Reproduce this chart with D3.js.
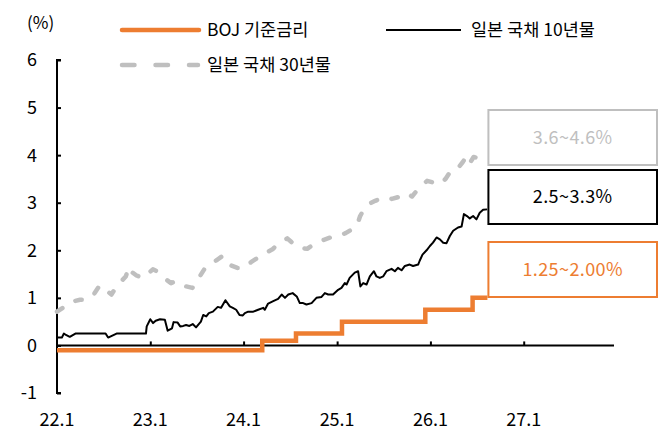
<!DOCTYPE html>
<html>
<head>
<meta charset="utf-8">
<script src="https://cdn.jsdelivr.net/npm/d3@7/dist/d3.min.js"></script>
<style>
  html, body { margin: 0; padding: 0; background: #fff; }
  svg { display: block; }
  text { font-family: "Noto Sans CJK KR", "Noto Sans", sans-serif; }
</style>
</head>
<body>
<svg id="chart" width="669" height="436"></svg>
<script>
// ---- Data ----
const seriesNames = ["BOJ 기준금리", "일본 국채 10년물", "일본 국채 30년물"];
const xTickLabels = ["22.1", "23.1", "24.1", "25.1", "26.1", "27.1"];
const yTickValues = [-1, 0, 1, 2, 3, 4, 5, 6];
const rangeLabels = ["3.6~4.6%", "2.5~3.3%", "1.25~2.00%"];

// BOJ policy rate (step changes)
const bojRate = [
  ["2022-01-01", -0.1], ["2024-03-14", 0.1], ["2024-07-24", 0.25],
  ["2025-01-20", 0.5], ["2025-12-12", 0.75], ["2026-06-15", 1.0], ["2026-08-12", 1.0]
];

// JGB 10-year yield
const jgb10 = [
  ["2022-01-02",0.165],["2022-01-20",0.165],["2022-01-28",0.25],["2022-02-05",0.22],["2022-02-20",0.18],
  ["2022-03-14",0.25],["2022-07-10",0.25],["2022-07-20",0.165],["2022-08-22",0.25],["2022-12-15",0.25],
  ["2022-12-18",0.40],["2023-01-01",0.55],["2023-01-12",0.47],["2023-01-22",0.52],["2023-02-08",0.55],
  ["2023-02-27",0.54],["2023-03-10",0.31],["2023-03-27",0.36],["2023-04-02",0.49],["2023-04-18",0.48],
  ["2023-04-28",0.40],["2023-05-10",0.41],["2023-05-21",0.43],["2023-06-03",0.41],["2023-06-16",0.45],
  ["2023-06-29",0.38],["2023-07-18",0.50],["2023-07-27",0.64],["2023-08-08",0.61],["2023-08-18",0.68],
  ["2023-09-03",0.71],["2023-09-22",0.81],["2023-10-05",0.79],["2023-10-22",0.95],["2023-11-08",0.82],
  ["2023-11-20",0.79],["2023-12-03",0.75],["2023-12-16",0.64],["2023-12-29",0.63],["2024-01-06",0.68],
  ["2024-01-19",0.71],["2024-02-08",0.71],["2024-02-27",0.75],["2024-03-18",0.79],["2024-03-24",0.75],
  ["2024-04-06",0.88],["2024-04-26",0.93],["2024-05-15",0.98],["2024-05-29",1.07],["2024-06-11",1.00],
  ["2024-06-24",1.07],["2024-07-11",1.10],["2024-07-27",1.03],["2024-08-08",0.89],["2024-08-21",0.89],
  ["2024-09-03",0.86],["2024-09-23",0.89],["2024-10-12",1.00],["2024-11-01",1.02],["2024-11-14",1.10],
  ["2024-11-27",1.07],["2024-12-16",1.07],["2025-01-05",1.17],["2025-01-18",1.21],["2025-01-31",1.31],
  ["2025-02-07",1.28],["2025-02-19",1.42],["2025-03-11",1.53],["2025-03-24",1.56],["2025-04-02",1.24],
  ["2025-04-13",1.31],["2025-04-26",1.28],["2025-05-09",1.45],["2025-05-25",1.56],["2025-06-04",1.45],
  ["2025-06-17",1.42],["2025-06-30",1.45],["2025-07-13",1.56],["2025-08-02",1.61],["2025-08-15",1.56],
  ["2025-08-27",1.63],["2025-09-10",1.58],["2025-09-23",1.67],["2025-10-12",1.70],["2025-10-25",1.67],
  ["2025-11-14",1.70],["2025-11-20",1.78],["2025-12-01",1.91],["2025-12-17",2.00],["2025-12-30",2.09],
  ["2026-01-11",2.16],["2026-01-25",2.27],["2026-02-07",2.23],["2026-02-20",2.16],["2026-03-05",2.15],
  ["2026-03-18",2.30],["2026-03-31",2.41],["2026-04-19",2.48],["2026-05-03",2.50],["2026-05-12",2.76],
  ["2026-05-24",2.72],["2026-06-04",2.67],["2026-06-17",2.72],["2026-06-30",2.65],["2026-07-13",2.79],
  ["2026-07-26",2.85],["2026-08-11",2.86]
];

// JGB 30-year yield
const jgb30 = [
  ["2022-01-01",0.71],["2022-01-26",0.80],["2022-02-28",0.92],["2022-04-01",0.96],["2022-04-20",0.96],
  ["2022-05-22",1.05],["2022-06-17",1.26],["2022-07-03",1.20],["2022-08-02",1.07],["2022-08-22",1.24],
  ["2022-09-03",1.31],["2022-09-27",1.45],["2022-10-10",1.65],["2022-10-19",1.55],["2022-11-08",1.47],
  ["2022-12-03",1.42],["2022-12-21",1.50],["2023-01-11",1.60],["2023-02-06",1.53],["2023-03-01",1.40],
  ["2023-03-23",1.31],["2023-04-11",1.35],["2023-05-14",1.25],["2023-06-15",1.21],["2023-07-05",1.38],
  ["2023-07-31",1.60],["2023-08-20",1.70],["2023-09-20",1.80],["2023-10-10",1.88],["2023-10-23",1.77],
  ["2023-11-13",1.68],["2023-12-08",1.63],["2024-01-03",1.63],["2024-01-30",1.75],["2024-02-24",1.84],
  ["2024-03-08",1.88],["2024-03-29",1.95],["2024-04-23",2.02],["2024-05-06",2.09],["2024-05-31",2.18],
  ["2024-06-20",2.25],["2024-07-05",2.18],["2024-07-23",2.09],["2024-08-13",2.05],["2024-09-06",2.03],
  ["2024-09-25",2.10],["2024-10-15",2.16],["2024-11-10",2.22],["2024-12-06",2.27],["2025-01-07",2.30],
  ["2025-02-03",2.36],["2025-02-28",2.44],["2025-03-19",2.51],["2025-04-01",2.72],["2025-04-18",2.88],
  ["2025-05-04",2.97],["2025-05-30",3.04],["2025-07-01",3.11],["2025-08-03",3.08],["2025-08-29",3.12],
  ["2025-10-01",3.20],["2025-10-21",3.13],["2025-11-16",3.30],["2025-12-19",3.46],["2026-01-08",3.43],
  ["2026-02-09",3.39],["2026-03-01",3.50],["2026-03-27",3.71],["2026-04-22",3.75],["2026-05-07",3.85],
  ["2026-05-24",3.99],["2026-06-06",3.85],["2026-06-19",3.96],["2026-07-09",3.94],["2026-07-28",4.03],
  ["2026-08-11",4.02]
];

// ---- Setup ----
const parse = d3.utcParse("%Y-%m-%d");
const svg = d3.select("#chart");
const orange = "#ED7D31", grey = "#BFBFBF", black = "#000000";

const x = d3.scaleUtc()
  .domain([parse("2022-01-01"), parse("2028-01-01")])
  .range([57, 617]);
const y = d3.scaleLinear().domain([-1, 6]).range([393, 60]);

const toPts = arr => arr.map(d => ({ date: parse(d[0]), v: d[1] }));
const line = d3.line().x(d => x(d.date)).y(d => y(d.v));
const stepLine = d3.line().x(d => x(d.date)).y(d => y(d.v)).curve(d3.curveStepAfter);

// ---- Axes ----
const xTickDates = xTickLabels.map(s => parse("20" + s.split(".")[0] + "-01-01"));

// Y axis
const yAxis = d3.axisRight(y).tickValues(yTickValues).tickSize(4).tickFormat("");
const gy = svg.append("g").attr("transform", "translate(57,0)").call(yAxis);
gy.select(".domain").attr("stroke", black).attr("stroke-width", 2)
  .attr("d", `M4,${y(6)}H0V${y(-1)}H4`);
gy.selectAll(".tick line").attr("stroke", black).attr("stroke-width", 2);

// Y labels
svg.append("g").selectAll("text").data(yTickValues).join("text")
  .attr("x", 37).attr("y", d => y(d)).attr("dy", "0.36em")
  .attr("text-anchor", "end").attr("font-size", 18).attr("fill", black)
  .text(d => d);

svg.append("text").attr("x", 27).attr("y", 29).attr("font-size", 17)
  .attr("fill", black).text("(%)");

// X axis at zero
const xAxis = d3.axisTop(x).tickValues(xTickDates.slice(1)).tickSize(4).tickFormat("");
const gx = svg.append("g").attr("transform", `translate(0,${y(0)})`).call(xAxis);
gx.select(".domain").attr("d", `M57,0H614`).attr("stroke", black).attr("stroke-width", 2);
gx.selectAll(".tick line").attr("stroke", black).attr("stroke-width", 2);

svg.append("g").selectAll("text").data(xTickDates).join("text")
  .attr("x", d => x(d)).attr("y", 426)
  .attr("text-anchor", "middle").attr("font-size", 18).attr("fill", black)
  .text((d, i) => xTickLabels[i]);

// ---- Series ----
svg.append("path").datum(toPts(jgb30)).attr("d", line)
  .attr("fill", "none").attr("stroke", grey).attr("stroke-width", 4.5)
  .attr("stroke-linecap", "round").attr("stroke-linejoin", "round")
  .attr("stroke-dasharray", "6.5,15");

svg.append("path").datum(toPts(jgb10)).attr("d", line)
  .attr("fill", "none").attr("stroke", black).attr("stroke-width", 2)
  .attr("stroke-linejoin", "round");

svg.append("path").datum(toPts(bojRate)).attr("d", stepLine)
  .attr("fill", "none").attr("stroke", orange).attr("stroke-width", 4.5)
  .attr("stroke-linejoin", "miter");

// ---- Range boxes ----
const lastDate = parse(bojRate[bojRate.length - 1][0]);
const bx = x(lastDate) + 1, bw = 657 - bx;
const boxes = [
  { top: 110, h: 55, color: grey, label: rangeLabels[0] },
  { top: 170, h: 54, color: black, label: rangeLabels[1] },
  { top: 242, h: 55, color: orange, label: rangeLabels[2] }
];
const gb = svg.append("g");
boxes.forEach(b => {
  gb.append("rect").attr("x", bx).attr("y", b.top).attr("width", bw).attr("height", b.h)
    .attr("fill", "#fff").attr("stroke", b.color).attr("stroke-width", 2);
  gb.append("text").attr("x", bx + bw / 2).attr("y", b.top + b.h / 2).attr("dy", "0.36em")
    .attr("text-anchor", "middle").attr("font-size", 18).attr("letter-spacing", 0.4)
    .attr("fill", b.color).text(b.label);
});

// ---- Legend ----
const lg = svg.append("g");
lg.append("line").attr("x1", 122).attr("x2", 199).attr("y1", 30).attr("y2", 30)
  .attr("stroke", orange).attr("stroke-width", 4.5).attr("stroke-linecap", "round");
lg.append("text").attr("x", 207).attr("y", 30).attr("dy", "0.36em").attr("font-size", 17.5)
  .attr("fill", black).text(seriesNames[0]);

lg.append("line").attr("x1", 386).attr("x2", 461).attr("y1", 30).attr("y2", 30)
  .attr("stroke", black).attr("stroke-width", 2);
lg.append("text").attr("x", 471).attr("y", 30).attr("dy", "0.36em").attr("font-size", 17.5)
  .attr("fill", black).text(seriesNames[1]);

lg.append("line").attr("x1", 122).attr("x2", 198).attr("y1", 65).attr("y2", 65)
  .attr("stroke", grey).attr("stroke-width", 4.5).attr("stroke-linecap", "round")
  .attr("stroke-dasharray", "12.5,21");
lg.append("text").attr("x", 207).attr("y", 65).attr("dy", "0.36em").attr("font-size", 17.5)
  .attr("fill", black).text(seriesNames[2]);
</script>
</body>
</html>
